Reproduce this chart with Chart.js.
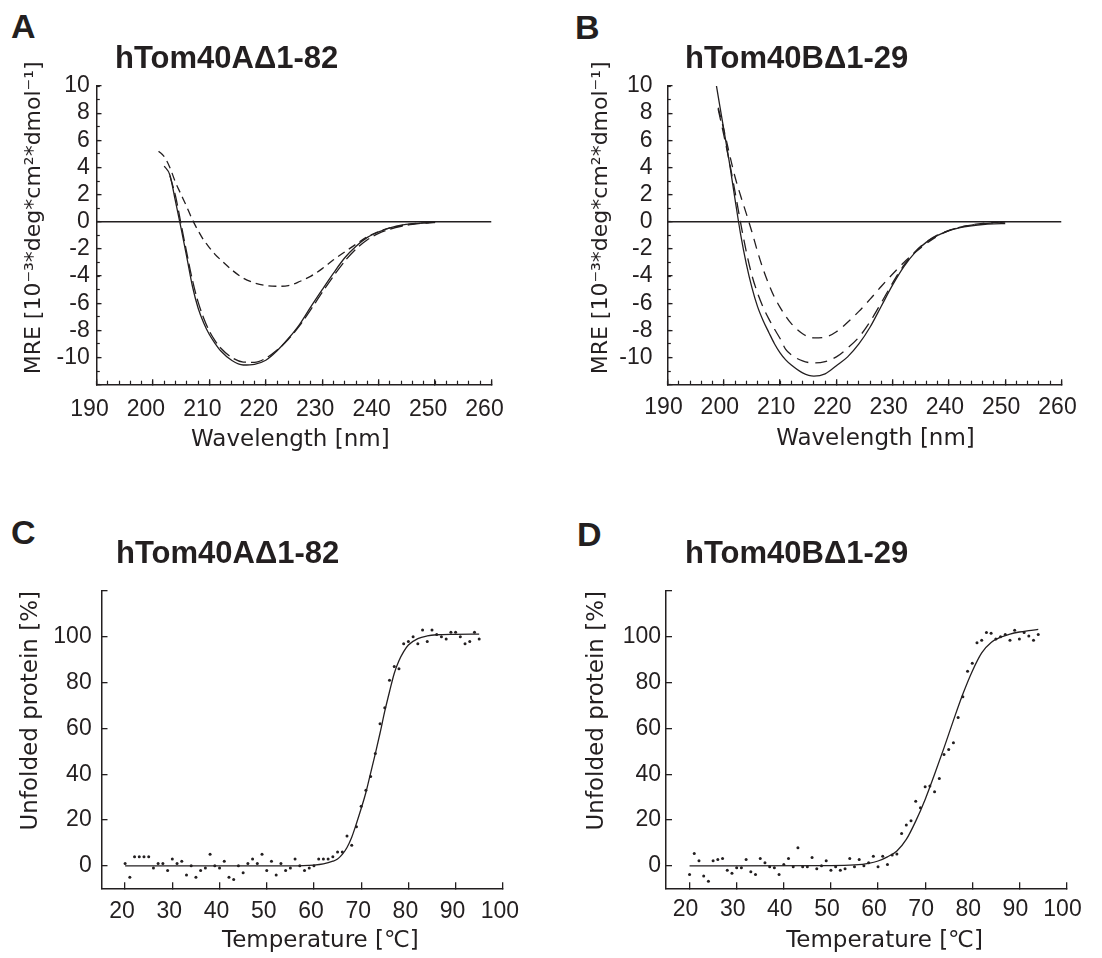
<!DOCTYPE html>
<html>
<head>
<meta charset="utf-8">
<title>CD spectra and thermal unfolding of hTom40A and hTom40B</title>
<script src="https://cdn.jsdelivr.net/npm/chart.js@4.4.1/dist/chart.umd.min.js"></script>
<style>
  html, body { margin: 0; padding: 0; background: #ffffff; }
  #fig { position: relative; width: 1102px; height: 958px; overflow: hidden; background: #ffffff; }
  #fig canvas { position: absolute; }
  .txt { position: absolute; margin: 0; font-family: "Liberation Sans", Arial, Helvetica, sans-serif; font-weight: bold; color: #231f20; line-height: 1; white-space: nowrap; z-index: 2; }
  .letter { font-size: 34px; }
  .title { font-size: 31px; }
</style>
</head>
<body>
<div id="fig">
  <canvas id="chartA" width="530" height="420" style="left:0px; top:50px;"></canvas>
  <canvas id="chartB" width="530" height="420" style="left:568px; top:50px;"></canvas>
  <canvas id="chartC" width="540" height="398" style="left:0px; top:560px;"></canvas>
  <canvas id="chartD" width="536" height="398" style="left:566px; top:560px;"></canvas>
  <div class="txt letter" style="left:11px; top:9px;">A</div>
  <div class="txt title" style="left:115px; top:42px;">hTom40AΔ1-82</div>
  <div class="txt letter" style="left:575px; top:10px;">B</div>
  <div class="txt title" style="left:685px; top:42px;">hTom40BΔ1-29</div>
  <div class="txt letter" style="left:11px; top:515px;">C</div>
  <div class="txt title" style="left:116px; top:537px;">hTom40AΔ1-82</div>
  <div class="txt letter" style="left:577px; top:517px;">D</div>
  <div class="txt title" style="left:685px; top:537px;">hTom40BΔ1-29</div>
</div>
<script>
// ---------------- data ----------------
// Panel A: CD spectra hTom40AΔ1-82
const wavelengthA = [201, 202, 203, 204, 205, 206, 207, 208, 209, 210, 211, 212, 214, 216, 218, 220, 222, 224, 226, 228, 230, 232, 234, 236, 238, 240, 242, 244, 246, 248, 250];
const solidA      = [null, 4.1, 3.45, 1.5, -0.5, -2.6, -4.75, -6.35, -7.45, -8.3, -8.95, -9.5, -10.22, -10.55, -10.5, -10.2, -9.5, -8.6, -7.55, -6.25, -5.0, -3.78, -2.65, -1.8, -1.15, -0.75, -0.45, -0.25, -0.14, -0.08, -0.05];
const longDashA   = [null, null, 3.4, 1.9, -0.2, -2.3, -4.3, -5.9, -7.1, -8.05, -8.75, -9.3, -10.0, -10.33, -10.35, -10.05, -9.45, -8.65, -7.65, -6.45, -5.2, -4.0, -2.9, -2.0, -1.32, -0.86, -0.55, -0.33, -0.19, -0.1, -0.05];
const shortDashA  = [5.2, 4.8, 4.0, 2.9, 2.0, 1.1, 0.15, -0.65, -1.35, -1.9, -2.4, -2.8, -3.55, -4.15, -4.5, -4.7, -4.75, -4.7, -4.4, -4.0, -3.45, -2.8, -2.22, -1.65, -1.1, -0.72, -0.45, -0.28, -0.15, -0.08, -0.05];

// Panel B: CD spectra hTom40BΔ1-29
const wavelengthB = [198.7, 199, 200, 201, 202, 203, 204, 205, 206, 207, 208, 209, 210, 211, 212, 214, 216, 218, 220, 222, 224, 226, 228, 230, 232, 234, 236, 238, 240, 242, 244, 246, 248, 250];
const solidB      = [10.0, 9.25, 6.8, 4.35, 1.65, -0.95, -3.1, -4.85, -6.25, -7.29, -8.15, -8.98, -9.65, -10.17, -10.55, -11.13, -11.37, -11.2, -10.6, -9.95, -9.0, -7.75, -6.2, -4.65, -3.3, -2.25, -1.5, -1.0, -0.65, -0.43, -0.3, -0.2, -0.15, -0.13];
const dashMidB    = [null, 8.3, 6.4, 4.4, 2.2, -0.1, -2.2, -3.95, -5.25, -6.3, -7.15, -7.9, -8.6, -9.4, -9.8, -10.25, -10.4, -10.3, -9.95, -9.3, -8.5, -7.35, -5.95, -4.5, -3.2, -2.2, -1.48, -0.97, -0.63, -0.4, -0.25, -0.14, -0.07, -0.03];
const dashUpB     = [null, 8.4, 6.8, 5.0, 3.3, 1.9, 0.6, -0.75, -2.2, -3.5, -4.6, -5.55, -6.3, -6.95, -7.5, -8.25, -8.55, -8.5, -8.1, -7.4, -6.6, -5.7, -4.75, -3.85, -3.0, -2.25, -1.6, -1.05, -0.65, -0.4, -0.23, -0.12, -0.05, 0.0];

// zero reference line of the CD panels
const baselineNm  = [190, 260];
const baselineMre = [0, 0];

// Panel C: thermal unfolding hTom40AΔ1-82
const tempC = [20, 21, 22, 23, 24, 25, 26, 27, 28, 29, 30, 31, 32, 33, 34, 35, 36, 37, 38, 39, 40, 41, 42, 43, 44, 45, 46, 47, 48, 49, 50, 51, 52, 53, 54, 55, 56, 57, 58, 59, 60, 61, 62, 63, 64, 65, 66, 67, 68, 69, 70, 71, 72, 73, 74, 75, 76, 77, 78, 79, 80, 81, 82, 83, 84, 85, 86, 87, 88, 89, 90, 91, 92, 93, 94, 95];
const unfoldedC = [1, -5, 4, 4, 4, 4, -1, 1, 1, -2, 3, 1, 2, -4, 0, -5, -2, -1, 5, 0, -1, 2, -5, -6, 0, -3, 1, 3, 1, 5, -2, 2, -4, 1, -2, -1, 3, 0, -2, -1, 0, 3, 3, 3, 4, 6, 6, 13, 9, 17, 26, 33, 39, 49, 62, 69, 81, 87, 86, 97, 98, 100, 97, 103, 98, 103, 101, 100, 99, 102, 102, 100, 97, 98, 102, 99];
const fitTempC  = [20, 55, 60, 62, 64, 65, 66, 67, 68, 69, 70, 71, 72, 73, 74, 75, 76, 77, 78, 79, 80, 82, 84, 86, 90, 95];
const fitC      = [0, 0, 0.3, 0.8, 2, 3, 5, 8, 12.5, 18.5, 25, 32, 40.5, 49, 58, 67.5, 76, 84, 89.5, 93.5, 96.4, 99.2, 100.4, 100.9, 101.1, 101.2];

// Panel D: thermal unfolding hTom40BΔ1-29
const tempD = [20, 21, 22, 23, 24, 25, 26, 27, 28, 29, 30, 31, 32, 33, 34, 35, 36, 37, 38, 39, 40, 41, 42, 43, 44, 45, 46, 47, 48, 49, 50, 51, 52, 53, 54, 55, 56, 57, 58, 59, 60, 61, 62, 63, 64, 65, 66, 67, 68, 69, 70, 71, 72, 73, 74, 75, 76, 77, 78, 79, 80, 81, 82, 83, 84, 85, 86, 87, 88, 89, 90, 91, 92, 93, 94];
const unfoldedD = [-3.8, 5.4, 2.2, -4.5, -6.8, 2.2, 2.8, 3.2, -1.9, -3.3, -0.9, -0.9, 2.8, -2.6, -3.8, 3.2, 1.3, -0.4, -0.9, -3.8, 0.6, 3.2, -0.4, 7.9, -0.4, -0.4, 3.6, -1.3, 0, 2.2, -1.9, -0.4, -1.9, -1.3, 3.2, -0.4, 2.8, 0, 1.3, 4.2, -0.4, 4.2, 0.6, 4.7, 5.1, 14.1, 17.8, 19.7, 28.2, 25.3, 34.5, 34.8, 32.3, 38.1, 48.6, 50.8, 53.7, 64.8, 73.8, 85.0, 88.4, 97.4, 98.5, 101.9, 101.5, 99.0, 100, 101, 98.5, 102.9, 99.0, 101.9, 100.3, 98.5, 101.0];
const fitTempD  = [20, 50, 55, 58, 60, 62, 64, 66, 68, 70, 72, 74, 76, 78, 80, 82, 84, 86, 88, 90, 92, 94];
const fitD      = [0, 0.1, 0.4, 1.1, 2.1, 3.9, 6.5, 11.5, 19.5, 29, 40, 51.5, 63.5, 75, 85, 93, 97.5, 99.8, 101.2, 102.1, 102.7, 103.2];

// tick values and labels
const wlTicks       = [190, 200, 210, 220, 230, 240, 250, 260];
const wlTickLabels  = [190, 200, 210, 220, 230, 240, 250, 260];
const mreTicks      = [-12, -10, -8, -6, -4, -2, 0, 2, 4, 6, 8, 10];
const mreTickLabels = [-10, -8, -6, -4, -2, 0, 2, 4, 6, 8, 10];
const tempTicks      = [20, 30, 40, 50, 60, 70, 80, 90, 100];
const tempTickLabels = [20, 30, 40, 50, 60, 70, 80, 90, 100];
const pctTicks       = [0, 20, 40, 60, 80, 100, 120];
const pctTickLabels  = [0, 20, 40, 60, 80, 100];

// ---------------- styling helpers ----------------
const INK = '#231f20';
const TICK_FONT = { family: "'Liberation Sans', Arial, Helvetica, sans-serif", size: 23, lineHeight: 1 };
const AXIS_TITLE_FONT = { family: "'DejaVu Sans', 'Liberation Sans', sans-serif", size: 23, lineHeight: 1 };
const MRE_TITLE_FONT = { family: "'DejaVu Sans', 'Liberation Sans', sans-serif", size: 22, lineHeight: 1 };

function toPoints(xs, ys) {
  const out = [];
  xs.forEach(function (x, i) { if (ys[i] !== null && ys[i] !== undefined) out.push({ x: x, y: ys[i] }); });
  return out;
}
function fixSize(horizontal, size) {
  return function (scale) { if (horizontal) scale.height = size; else scale.width = size; };
}
function majorAxis(o) {
  const horizontal = o.position === 'bottom';
  return {
    type: 'linear', position: o.position, min: o.min, max: o.max, weight: 1,
    afterBuildTicks: function (scale) { scale.ticks = o.ticks.map(function (v) { return { value: v }; }); },
    afterFit: fixSize(horizontal, o.size),
    border: { display: true, color: INK, width: 1.5 },
    grid: { display: true, drawOnChartArea: false, drawTicks: true, tickLength: o.tickLength, tickColor: INK, tickWidth: 1.3, color: INK, lineWidth: 1.3 },
    ticks: {
      autoSkip: false, maxRotation: 0, minRotation: 0, padding: o.pad, labelOffset: o.labelOffset || 0,
      color: INK, font: TICK_FONT,
      callback: function (v) { return o.labels.indexOf(v) >= 0 ? String(v) : ''; }
    },
    title: { display: true, text: o.title, color: INK, font: o.titleFont || AXIS_TITLE_FONT, align: o.titleAlign || 'center', padding: o.titlePadding }
  };
}
function minorAxis(o) {
  const horizontal = o.position === 'bottom';
  return {
    type: 'linear', position: o.position, min: o.min, max: o.max, weight: 0,
    afterFit: fixSize(horizontal, 0),
    border: { display: false },
    grid: { display: true, drawOnChartArea: false, drawTicks: true, tickLength: o.tickLength, tickColor: INK, tickWidth: 1.2 },
    ticks: { display: false, stepSize: o.step, autoSkip: false },
    title: { display: false }
  };
}
function curve(xs, ys, dash, width) {
  return {
    data: toPoints(xs, ys), xAxisID: 'x', yAxisID: 'y',
    borderColor: INK, borderWidth: width, borderDash: dash, pointRadius: 0, fill: false,
    cubicInterpolationMode: 'monotone'
  };
}
function dots(xs, ys) {
  return {
    data: toPoints(xs, ys), xAxisID: 'x', yAxisID: 'y', showLine: false,
    pointRadius: 1.5, pointBackgroundColor: INK, pointBorderWidth: 0, borderColor: INK
  };
}
function makeChart(id, padding, scales, datasets) {
  return new Chart(document.getElementById(id), {
    type: 'line',
    data: { datasets: datasets },
    options: {
      responsive: false, maintainAspectRatio: false, animation: false, devicePixelRatio: 1,
      events: [],
      layout: { padding: padding },
      plugins: { legend: { display: false }, tooltip: { enabled: false }, title: { display: false } },
      scales: scales
    }
  });
}

// ---------------- Panel A ----------------
makeChart('chartA', { top: 36, right: 27, left: 0, bottom: 0 }, {
  x: majorAxis({ position: 'bottom', min: 190, max: 260, ticks: wlTicks, labels: wlTickLabels, size: 85.3,
    tickLength: -5.5, pad: 19.3, labelOffset: -7,
    title: 'Wavelength [nm] ', titlePadding: { top: 0, bottom: 18.5 } }),
  xm: minorAxis({ position: 'bottom', min: 190, max: 260, step: 2, tickLength: -4 }),
  y: majorAxis({ position: 'left', min: -12, max: 10, ticks: mreTicks, labels: mreTickLabels, size: 96.5,
    tickLength: -5, pad: 11.7,
    title: '     MRE [10⁻³*deg*cm²*dmol⁻¹]', titleFont: MRE_TITLE_FONT, titlePadding: { top: 23, bottom: 0 } }),
  ym: minorAxis({ position: 'left', min: -12, max: 10, step: 1, tickLength: -3.3 })
}, [
  curve(baselineNm, baselineMre, [], 1.4),
  curve(wavelengthA, shortDashA, [8, 5], 1.3),
  curve(wavelengthA, longDashA, [13, 5], 1.3),
  curve(wavelengthA, solidA, [], 1.3)
]);

// ---------------- Panel B ----------------
makeChart('chartB', { top: 36, right: 24.5, left: 0, bottom: 0 }, {
  x: majorAxis({ position: 'bottom', min: 190, max: 260, ticks: wlTicks, labels: wlTickLabels, size: 85.3,
    tickLength: -5.5, pad: 17.3, labelOffset: -4,
    title: '   Wavelength [nm]', titlePadding: { top: 0, bottom: 19.5 } }),
  xm: minorAxis({ position: 'bottom', min: 190, max: 260, step: 2, tickLength: -4 }),
  y: majorAxis({ position: 'left', min: -12, max: 10, ticks: mreTicks, labels: mreTickLabels, size: 99.5,
    tickLength: -5, pad: 20,
    title: '     MRE [10⁻³*deg*cm²*dmol⁻¹]', titleFont: MRE_TITLE_FONT, titlePadding: { top: 22, bottom: 0 } }),
  ym: minorAxis({ position: 'left', min: -12, max: 10, step: 1, tickLength: -3.3 })
}, [
  curve(baselineNm, baselineMre, [], 1.4),
  curve(wavelengthB, dashUpB, [10, 7], 1.3),
  curve(wavelengthB, dashMidB, [12, 7], 1.3),
  curve(wavelengthB, solidB, [], 1.3)
]);

// ---------------- Panel C ----------------
makeChart('chartC', { top: 31, right: 30, left: 0, bottom: 0 }, {
  x: majorAxis({ position: 'bottom', min: 15, max: 100, ticks: tempTicks, labels: tempTickLabels, size: 69.3,
    tickLength: -6.5, pad: 18, labelOffset: -3,
    title: '     Temperature [℃]', titlePadding: { top: 0, bottom: 5.2 } }),
  y: majorAxis({ position: 'left', min: -10, max: 120, ticks: pctTicks, labels: pctTickLabels, size: 101.5,
    tickLength: -6, pad: 15.8,
    title: 'Unfolded protein [%]', titleAlign: 'end', titlePadding: { top: 19.8, bottom: 0 } })
}, [
  dots(tempC, unfoldedC),
  curve(fitTempC, fitC, [], 1.3)
]);

// ---------------- Panel D ----------------
makeChart('chartD', { top: 31, right: 24.6, left: 0, bottom: 0 }, {
  x: majorAxis({ position: 'bottom', min: 15, max: 100, ticks: tempTicks, labels: tempTickLabels, size: 69.3,
    tickLength: -6.5, pad: 16.3, labelOffset: -4,
    title: '     Temperature [℃]', titlePadding: { top: 0, bottom: 5.7 } }),
  y: majorAxis({ position: 'left', min: -10, max: 120, ticks: pctTicks, labels: pctTickLabels, size: 100,
    tickLength: -6, pad: 11,
    title: 'Unfolded protein [%]', titleAlign: 'end', titlePadding: { top: 19.5, bottom: 0 } })
}, [
  dots(tempD, unfoldedD),
  curve(fitTempD, fitD, [], 1.3)
]);
</script>
</body>
</html>
